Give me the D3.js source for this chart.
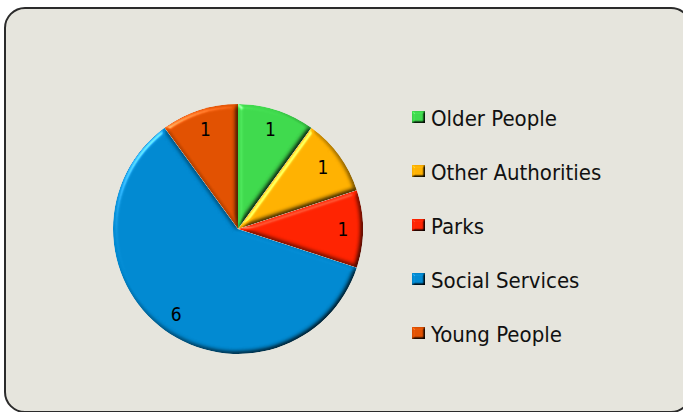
<!DOCTYPE html>
<html>
<head>
<meta charset="utf-8">
<script src="https://cdn.jsdelivr.net/npm/d3@7"></script>
<style>
  html, body { margin: 0; padding: 0; background: #ffffff; }
  svg { display: block; }
</style>
</head>
<body>
<svg id="chart" width="683" height="412"></svg>
<script>
// Referrals by service area
const categories = ["Older People", "Other Authorities", "Parks", "Social Services", "Young People"];
const values = [1, 1, 1, 6, 1];
const colors = ["#3ed84c", "#ffb000", "#ff2200", "#0088d0", "#e05000"];

const svg = d3.select("#chart");
const defs = svg.append("defs");

// Bevel lighting filter: flat interior keeps its colour, edges get light/shade
function bevel(id, blur, surfaceScale) {
  const elev = 55;
  const f = defs.append("filter").attr("id", id)
    .attr("x", "-10%").attr("y", "-10%").attr("width", "120%").attr("height", "120%")
    .attr("color-interpolation-filters", "sRGB");
  f.append("feGaussianBlur").attr("in", "SourceAlpha").attr("stdDeviation", blur).attr("result", "blur");
  const dl = f.append("feDiffuseLighting").attr("in", "blur")
    .attr("surfaceScale", surfaceScale)
    .attr("diffuseConstant", 1 / Math.sin(elev * Math.PI / 180))
    .attr("lighting-color", "#ffffff").attr("result", "diff");
  dl.append("feDistantLight").attr("azimuth", 225).attr("elevation", elev);
  f.append("feComposite").attr("in", "SourceGraphic").attr("in2", "diff")
    .attr("operator", "arithmetic").attr("k1", 1).attr("k2", 0).attr("k3", 0).attr("k4", 0).attr("result", "lit");
  const sl = f.append("feSpecularLighting").attr("in", "blur")
    .attr("surfaceScale", surfaceScale).attr("specularConstant", 0.8)
    .attr("specularExponent", 30).attr("lighting-color", "#ffffff").attr("result", "spec");
  sl.append("feDistantLight").attr("azimuth", 225).attr("elevation", 30);
  f.append("feComposite").attr("in", "spec").attr("in2", "SourceAlpha").attr("operator", "in").attr("result", "specIn");
  f.append("feComposite").attr("in", "lit").attr("in2", "SourceAlpha").attr("operator", "in").attr("result", "litIn");
  f.append("feComposite").attr("in", "specIn").attr("in2", "litIn")
    .attr("operator", "arithmetic").attr("k1", 0).attr("k2", 0.5).attr("k3", 1).attr("k4", 0);
}
bevel("bevel", 2.5, 3);
bevel("bevelSmall", 1.2, 2.5);

// Panel
svg.append("rect")
  .attr("x", 5).attr("y", 8).attr("width", 686).attr("height", 404)
  .attr("rx", 20).attr("ry", 20)
  .attr("fill", "#e6e5dd").attr("stroke", "#2b2b2b").attr("stroke-width", 2);

// Pie
const cx = 238, cy = 229, r = 125;
const pie = d3.pie().sort(null).value(d => d)(values);
const arc = d3.arc().innerRadius(0).outerRadius(r);
const labelArc = d3.arc().innerRadius(r * 0.84).outerRadius(r * 0.84);

const g = svg.append("g").attr("transform", `translate(${cx},${cy})`);

g.selectAll("path.slice")
  .data(pie)
  .join("path")
  .attr("class", "slice")
  .attr("d", arc)
  .attr("fill", (d, i) => colors[i])
  .attr("filter", "url(#bevel)");

g.selectAll("text.val")
  .data(pie)
  .join("text")
  .attr("class", "val")
  .attr("transform", d => `translate(${labelArc.centroid(d)})`)
  .attr("text-anchor", "middle")
  .attr("dy", "0.36em")
  .attr("font-family", "DejaVu Sans Condensed, DejaVu Sans, sans-serif")
  .attr("font-size", 19)
  .attr("fill", "#000")
  .text(d => d.data);

// Legend
const legend = svg.append("g").attr("transform", "translate(412,117)");
const item = legend.selectAll("g.item")
  .data(categories)
  .join("g")
  .attr("class", "item")
  .attr("transform", (d, i) => `translate(0,${i * 54})`);

item.append("rect")
  .attr("x", 0).attr("y", -6).attr("width", 13).attr("height", 12)
  .attr("fill", (d, i) => colors[i])
  .attr("filter", "url(#bevelSmall)");

item.append("text")
  .attr("x", 19).attr("y", 1).attr("dy", "0.35em")
  .attr("font-family", "DejaVu Sans Condensed, DejaVu Sans, sans-serif")
  .attr("font-size", 22)
  .attr("fill", "#111")
  .text(d => d);
</script>
</body>
</html>
